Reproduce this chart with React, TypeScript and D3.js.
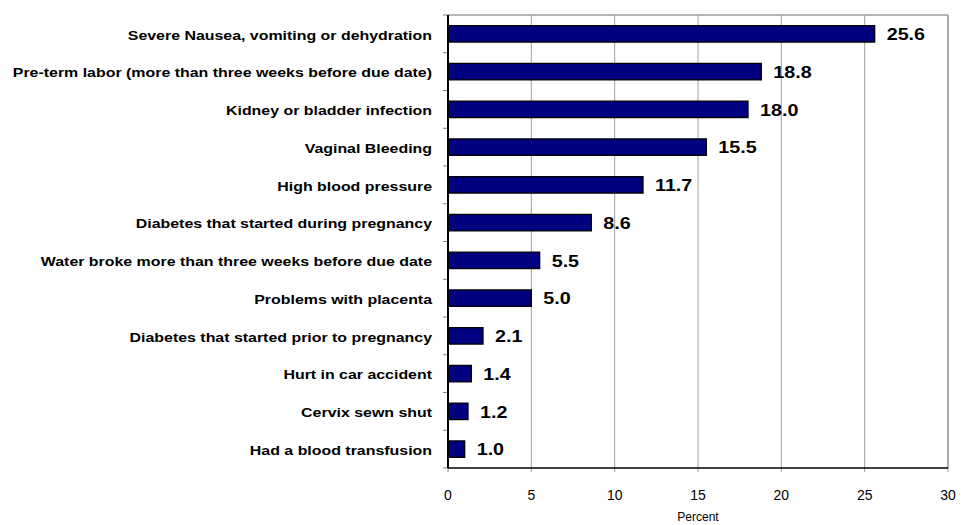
import React from "react";
import * as d3 from "d3";

const categories = [
  "Severe Nausea, vomiting or dehydration",
  "Pre-term labor (more than three weeks before due date)",
  "Kidney or bladder infection",
  "Vaginal Bleeding",
  "High blood pressure",
  "Diabetes that started during pregnancy",
  "Water broke more than three weeks before due date",
  "Problems with placenta",
  "Diabetes that started prior to pregnancy",
  "Hurt in car accident",
  "Cervix sewn shut",
  "Had a blood transfusion"
];
const values = [25.6, 18.8, 18.0, 15.5, 11.7, 8.6, 5.5, 5.0, 2.1, 1.4, 1.2, 1.0];
const xTicks = [0, 5, 10, 15, 20, 25, 30];
const axisTitle = "Percent";

const layout = {
  width: 961,
  height: 525,
  left: 448,
  right: 948,
  top: 15,
  bottom: 468
};

const font = "Arial, 'Liberation Sans', sans-serif";
// the bold labels in the original are drawn a bit wider than the font's natural width
const catStretch = 1.18;
const valStretch = 1.16;

export default function App() {
  const x = d3.scaleLinear().domain([0, 30]).range([layout.left, layout.right]);
  const y = d3
    .scaleBand<string>()
    .domain(categories)
    .range([layout.top, layout.bottom])
    .paddingInner(0)
    .paddingOuter(0);
  const band = y.bandwidth();
  const barH = band / 2.3;

  // category tick positions between bands
  const catTicks = d3.range(categories.length + 1).map(i => layout.top + i * band);

  return (
    <svg
      width={layout.width}
      height={layout.height}
      style={{ position: "absolute", left: 0, top: 0, background: "#fff" }}
      fontFamily={font}
    >
      {/* plot border + gridlines */}
      {xTicks.slice(1).map(t => (
        <line
          key={"g" + t}
          x1={x(t)}
          x2={x(t)}
          y1={layout.top}
          y2={layout.bottom + 4}
          stroke="#a0a0a0"
          strokeWidth={1}
        />
      ))}
      <line x1={layout.left} x2={layout.right} y1={layout.top} y2={layout.top} stroke="#a0a0a0" strokeWidth={1.5} />
      <line x1={layout.right} x2={layout.right} y1={layout.top} y2={layout.bottom} stroke="#a0a0a0" strokeWidth={1.5} />

      {catTicks.map((t, i) => (
        <line key={"ct" + i} x1={layout.left - 5} x2={layout.left} y1={t} y2={t} stroke="#808080" strokeWidth={1} />
      ))}
      <line x1={layout.left} x2={layout.left} y1={layout.bottom + 4} y2={layout.bottom} stroke="#808080" />

      {/* bars */}
      {categories.map((c, i) => {
        const yc = (y(c) as number) + band / 2;
        return (
          <g key={c}>
            <rect
              x={x(0)}
              y={yc - barH / 2}
              width={x(values[i]) - x(0)}
              height={barH}
              fill="#000080"
              stroke="#000"
              strokeWidth={1.3}
            />
            <g transform={`translate(${x(values[i]) + 12},${yc}) scale(${valStretch},1)`}>
              <text dy="0.36em" fontSize={17} fontWeight="bold" fill="#000">
                {values[i].toFixed(1)}
              </text>
            </g>
            <g transform={`translate(432,${yc}) scale(${catStretch},1)`}>
              <text dy="0.42em" textAnchor="end" fontSize={13.5} fontWeight="bold" fill="#000">
                {c}
              </text>
            </g>
          </g>
        );
      })}

      {/* axes */}
      <line x1={layout.left} x2={layout.left} y1={layout.top} y2={layout.bottom} stroke="#000" strokeWidth={2} />
      <line x1={layout.left} x2={layout.right} y1={layout.bottom} y2={layout.bottom} stroke="#000" strokeWidth={1.5} />

      {xTicks.map(t => (
        <text key={"xt" + t} x={x(t)} y={500} textAnchor="middle" fontSize={14} fill="#000">
          {t}
        </text>
      ))}
      <text x={(layout.left + layout.right) / 2} y={521} textAnchor="middle" fontSize={12} fill="#000">
        {axisTitle}
      </text>
    </svg>
  );
}
